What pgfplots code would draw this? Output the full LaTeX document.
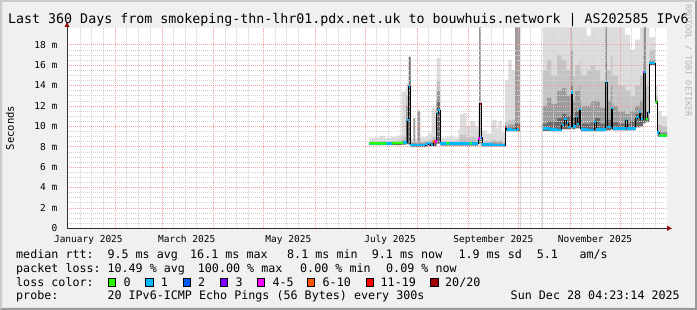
\documentclass[border=0pt]{standalone}
\usepackage{pgfplots}
\pgfplotsset{compat=1.18}
\usepackage{pgfplotstable}
\usepackage{fontspec}
\setmainfont{DejaVu Sans Mono}
\usetikzlibrary{arrows.meta}
\definecolor{bgc}{HTML}{F0F0F0}
\definecolor{shA}{HTML}{CBCBCB}
\definecolor{shB}{HTML}{999999}
\definecolor{mgrid}{HTML}{F2A0A0}
\definecolor{mingrid}{HTML}{D2D2D2}
\definecolor{arrowc}{HTML}{9A1010}
\definecolor{axc}{HTML}{303030}
\definecolor{s1}{HTML}{6A6A6A}
\definecolor{s2}{HTML}{9C9C9C}
\definecolor{s3}{HTML}{C4C4C4}
\definecolor{s4}{HTML}{DDDDDD}
\definecolor{wm}{HTML}{B4B4B4}
\definecolor{lc0}{HTML}{26FF00}
\definecolor{lc1}{HTML}{00B8FF}
\definecolor{lc2}{HTML}{0059FF}
\definecolor{lc3}{HTML}{7E00FF}
\definecolor{lc4}{HTML}{FF00FF}
\definecolor{lc6}{HTML}{FF5500}
\definecolor{lc11}{HTML}{FF0000}
\definecolor{lc20}{HTML}{A00000}

% smoke: interval start (day of 2025), min ping, and tops of the four shades
\pgfplotstableread{
x lo t1 t2 t3 t4
182.6 8.15 8.35 8.45 8.55 8.85
186.0 8.15 8.35 8.45 8.55 8.90
189.0 8.15 8.35 8.45 8.60 9.05
192.0 8.15 8.35 8.45 8.55 8.85
196.0 8.15 8.35 8.45 8.60 8.95
200.0 8.15 8.40 8.50 8.70 9.10
202.0 8.20 8.45 8.60 9.00 13.40
204.6 8.25 10.60 12.00 13.00 14.20
206.3 8.20 16.80 16.80 16.80 16.80
207.3 7.95 8.25 8.35 8.50 8.80
209.0 7.95 8.30 10.80 10.80 10.80
210.0 7.95 8.25 8.35 8.50 8.80
211.4 7.95 8.30 11.50 11.50 11.60
213.0 7.95 8.25 8.40 8.55 8.90
216.0 8.00 8.30 8.45 8.60 9.00
218.0 8.05 8.35 8.50 8.70 9.30
220.0 8.05 8.40 8.60 9.00 11.80
223.0 8.30 12.50 13.50 14.50 16.70
225.0 8.10 8.40 8.50 8.60 8.90
229.0 8.10 8.40 8.50 8.60 9.00
233.0 8.10 8.40 8.50 8.60 8.90
236.0 8.10 8.40 8.50 8.80 9.70
237.0 8.10 8.40 8.60 9.20 11.20
239.0 8.10 8.40 8.60 9.20 11.30
241.0 8.10 8.40 8.50 8.90 10.00
243.0 8.10 8.40 8.60 9.00 10.50
246.0 8.10 8.40 8.50 8.90 10.00
248.0 8.30 8.90 9.50 10.50 12.30
248.6 8.30 19.70 19.70 19.70 19.70
249.4 8.20 8.90 9.20 9.60 10.00
250.0 8.00 8.30 8.40 8.60 9.60
253.0 8.00 8.30 8.40 8.55 9.30
256.0 8.00 8.30 8.45 8.70 10.60
259.0 8.00 8.30 8.40 8.60 9.80
260.0 8.00 8.30 8.45 8.70 10.50
262.0 8.00 8.30 8.40 8.55 9.40
264.0 9.50 9.90 10.10 10.40 14.50
266.0 9.50 9.90 10.20 10.60 16.50
268.0 9.50 9.90 10.20 10.60 15.50
270.0 9.50 10.30 19.70 19.70 19.70
273.0 0 0 0 0 0
286.6 9.55 10.30 12.00 15.50 19.70
289.0 9.55 10.50 12.80 16.50 19.70
292.0 9.50 10.40 12.20 15.00 19.70
295.0 9.50 10.80 13.50 17.00 19.70
298.0 9.70 11.20 13.80 16.50 19.70
301.0 9.70 11.00 13.00 15.50 19.70
303.6 9.80 14.00 17.50 19.70 19.70
304.6 9.70 10.80 12.50 15.00 19.70
306.0 9.80 11.50 13.50 16.00 19.70
308.6 9.80 12.00 14.00 16.50 19.70
309.4 9.50 10.60 12.50 15.50 19.70
310.0 9.50 10.30 12.00 15.00 19.70
313.0 9.50 10.30 12.00 15.50 18.90
315.5 9.50 10.40 12.50 16.00 19.70
318.0 9.50 10.80 12.50 15.50 19.70
321.0 9.50 10.30 11.80 14.50 19.70
324.2 9.60 19.70 19.70 19.70 19.70
325.0 9.60 10.60 12.50 15.50 19.70
327.6 9.70 12.00 14.00 17.00 19.70
328.6 9.60 10.40 12.00 15.00 19.70
332.0 9.60 10.30 11.50 14.00 19.70
336.0 9.60 10.30 11.20 13.50 19.00
339.0 9.60 10.50 11.50 13.00 17.50
342.0 9.90 11.20 12.00 14.00 18.50
345.0 10.00 11.30 12.50 15.00 19.70
346.8 10.30 15.30 17.00 19.70 19.70
347.6 10.30 19.70 19.70 19.70 19.70
348.4 10.40 10.80 11.50 14.00 19.70
350.6 16.00 16.30 16.50 17.50 18.75
354.0 12.20 12.40 12.60 13.00 14.00
355.5 9.00 9.30 9.60 10.20 11.50
358.0 9.00 9.30 9.50 10.00 11.00
361.18 9.00 9.30 9.50 10.00 11.00
}\smoke

% median rtt (ms), step starting at x
\pgfplotstableread{
x v
182.6 8.33
190.0 8.30
196.0 8.35
203.0 8.40
205.3 10.60
206.2 13.90
207.2 8.17
212.0 8.15
216.0 8.25
218.0 8.35
219.5 8.17
221.0 8.50
222.0 8.50
223.0 11.30
224.0 11.60
225.0 8.33
236.0 8.33
248.0 8.80
248.8 12.20
249.6 8.90
250.2 8.20
257.0 8.15
264.0 9.95
265.0 9.70
268.0 9.65
271.0 9.75
272.5 9.90
273.0 9.90
273.1 nan
286.6 9.80
291.0 9.70
295.0 9.65
298.0 10.10
299.6 10.70
301.0 10.30
302.0 9.96
303.6 13.30
304.6 10.00
306.4 10.90
307.4 10.20
308.6 11.70
309.4 9.80
310.0 9.70
314.0 9.65
317.6 10.40
318.6 9.70
324.4 14.30
325.2 9.96
327.6 11.80
328.6 9.80
336.4 10.60
337.2 9.80
342.4 10.80
343.4 10.90
344.4 11.40
345.4 10.70
346.8 15.30
348.4 10.70
349.6 11.40
350.6 16.20
354.2 12.40
355.4 9.40
356.6 9.10
361.18 9.10
}\median

\pgfplotstableread{
x v
182.6 8.33
193.0 8.31
nan nan
196.0 8.35
203.0 8.37
nan nan
229.0 8.33
230.5 8.33
nan nan
243.0 8.33
244.0 8.33
nan nan
348.4 10.70
349.6 10.70
nan nan
354.2 12.40
355.4 12.40
nan nan
356.6 9.10
361.18 9.10
}\lossA

\pgfplotstableread{
x v
222.0 8.50
223.0 8.50
nan nan
248.0 8.80
248.8 8.80
nan nan
346.8 15.30
347.6 15.30
}\lossM

\pgfplotstableread{
x v
248.8 12.20
249.6 12.20
nan nan
264.0 9.95
264.7 9.95
}\lossR

\pgfplotstableread{
x v
221.0 8.50
222.0 8.50
nan nan
272.5 9.90
273.0 9.90
}\lossO

\pgfplotstableread{
x v
249.6 8.90
250.2 8.90
}\lossB

\begin{document}
\begin{tikzpicture}
\useasboundingbox (0pt,0pt) rectangle (697pt,310pt);
\fill[bgc] (0pt,0pt) rectangle (697pt,310pt);
\fill[shA] (0pt,0pt) -- (0pt,310pt) -- (697pt,310pt) -- (695pt,308pt) -- (2pt,308pt) -- (2pt,2pt) -- cycle;
\fill[shB] (0pt,0pt) -- (697pt,0pt) -- (697pt,310pt) -- (695pt,308pt) -- (695pt,2pt) -- (2pt,2pt) -- cycle;

\begin{axis}[
  at={(67pt,81.7pt)}, anchor=south west,
  scale only axis, width=600pt, height=200.3pt,
  xmin=1.18, xmax=361.18, ymin=0, ymax=19.64,
  axis background/.style={fill=white},
  axis on top, stack plots=y,
  axis x line=bottom, axis y line=left,
  axis line style={draw=axc, line width=0.9pt},
  x axis line style={-{Triangle[length=5pt,width=5pt,color=arrowc]}, shorten >=-5pt},
  y axis line style={-{Triangle[length=5pt,width=5pt,color=arrowc]}, shorten >=-6pt},
  xtick={30.2,58.2,89.2,119.2,150.2,180.2,211.2,242.2,272.2,303.2,333.2},
  xticklabels={},
  minor xtick={9,16,23,37,44,51,65,72,79,96,103,110,126,133,140,157,164,171,187,194,201,218,225,232,249,256,263,279,286,293,310,317,324,340,347,354},
  extra x ticks={14,73,134,195,257,318},
  extra x tick labels={January 2025,March 2025,May 2025,July 2025,September 2025,November 2025},
  extra x tick style={grid=none},
  ytick={0,2,...,18},
  yticklabels={0,2 m,4 m,6 m,8 m,10 m,12 m,14 m,16 m,18 m},
  minor y tick num=3,
  grid=both,
  major grid style={draw=mgrid, dash pattern=on 1pt off 1pt, line width=0.7pt},
  minor grid style={draw=mingrid, dash pattern=on 1pt off 1pt, line width=0.6pt},
  tick style={draw=none},
  every tick label/.append style={font=\fontsize{9.5}{11}\selectfont},
  xticklabel style={anchor=north, inner sep=0pt, yshift=-4.4pt},
  yticklabel style={anchor=east, inner sep=0pt, xshift=-7.4pt},
]
\addplot[draw=none, const plot mark left] table[x=x,y=lo]{\smoke};
\addplot[fill=s1, draw=none, const plot mark left] table[x=x,y expr=\thisrow{t1}-\thisrow{lo}]{\smoke} \closedcycle;
\addplot[fill=s2, draw=none, const plot mark left] table[x=x,y expr=\thisrow{t2}-\thisrow{t1}]{\smoke} \closedcycle;
\addplot[fill=s3, draw=none, const plot mark left] table[x=x,y expr=\thisrow{t3}-\thisrow{t2}]{\smoke} \closedcycle;
\addplot[fill=s4, draw=none, const plot mark left] table[x=x,y expr=\thisrow{t4}-\thisrow{t3}]{\smoke} \closedcycle;
\end{axis}

\begin{axis}[
  at={(67pt,81.7pt)}, anchor=south west,
  scale only axis, width=600pt, height=200.3pt,
  xmin=1.18, xmax=361.18, ymin=0, ymax=19.64,
  hide axis, unbounded coords=jump,
]
\addplot[black, line width=0.8pt, const plot mark left, mark=none] table[x=x,y=v]{\median};
\addplot[lc1, line width=2.4pt, jump mark left, mark=none, line cap=butt] table[x=x,y=v]{\median};
\addplot[lc0, line width=2.4pt, mark=none, line cap=butt] table[x=x,y=v]{\lossA};
\addplot[lc4, line width=2.4pt, mark=none, line cap=butt] table[x=x,y=v]{\lossM};
\addplot[lc11, line width=2.4pt, mark=none, line cap=butt] table[x=x,y=v]{\lossR};
\addplot[lc6, line width=2.4pt, mark=none, line cap=butt] table[x=x,y=v]{\lossO};
\addplot[lc2, line width=2.4pt, mark=none, line cap=butt] table[x=x,y=v]{\lossB};
\end{axis}

% title, axis label, watermark
\node[anchor=base, inner sep=0pt, font=\fontsize{13.3}{15}\selectfont] at (348.5pt,286.5pt)
  {Last 360 Days from smokeping-thn-lhr01.pdx.net.uk to bouwhuis.network | AS202585 IPv6};
\node[rotate=90, inner sep=0pt, font=\fontsize{10.5}{12}\selectfont] at (10pt,182pt) {Seconds};
\node[rotate=-90, anchor=west, inner sep=0pt, text=wm, font=\fontsize{8.5}{10}\selectfont] at (688.3pt,306pt)
  {RRDTOOL / TOBI OETIKER};

% legend
\begin{scope}[every node/.style={anchor=base west, inner sep=0pt, font=\fontsize{11.7}{13}\selectfont}]
\node at (16pt,51.7pt) {median rtt:};
\node at (107.3pt,51.7pt) {9.5 ms avg};
\node at (190pt,51.7pt) {16.1 ms max};
\node at (287pt,51.7pt) {8.1 ms min};
\node at (371.7pt,51.7pt) {9.1 ms now};
\node at (458.3pt,51.7pt) {1.9 ms sd};
\node at (536.7pt,51.7pt) {5.1};
\node at (579.3pt,51.7pt) {am/s};
\node at (16pt,37.7pt) {packet loss:};
\node at (107.3pt,37.7pt) {10.49 \% avg};
\node at (197.7pt,37.7pt) {100.00 \% max};
\node at (300pt,37.7pt) {0.00 \% min};
\node at (386pt,37.7pt) {0.09 \% now};
\node at (16pt,23.7pt) {loss color:};
\node at (123.3pt,23.7pt) {0};
\node at (160.7pt,23.7pt) {1};
\node at (198pt,23.7pt) {2};
\node at (235.3pt,23.7pt) {3};
\node at (272.3pt,23.7pt) {4-5};
\node at (322.5pt,23.7pt) {6-10};
\node at (380.5pt,23.7pt) {11-19};
\node at (445pt,23.7pt) {20/20};
\node at (16pt,10pt) {probe:};
\node at (107.3pt,10pt) {20 IPv6-ICMP Echo Pings (56 Bytes) every 300s};
\node[anchor=base east] at (680pt,10pt) {Sun Dec 28 04:23:14 2025};
\end{scope}
\begin{scope}[line width=0.7pt]
\draw[fill=lc0] (108.3pt,24pt) rectangle ++(7.3pt,7.3pt);
\draw[fill=lc1] (145.7pt,24pt) rectangle ++(7.3pt,7.3pt);
\draw[fill=lc2] (183pt,24pt) rectangle ++(7.3pt,7.3pt);
\draw[fill=lc3] (220.3pt,24pt) rectangle ++(7.3pt,7.3pt);
\draw[fill=lc4] (257.3pt,24pt) rectangle ++(7.3pt,7.3pt);
\draw[fill=lc6] (307.5pt,24pt) rectangle ++(7.3pt,7.3pt);
\draw[fill=lc11] (366pt,24pt) rectangle ++(7.3pt,7.3pt);
\draw[fill=lc20] (430.7pt,24pt) rectangle ++(7.3pt,7.3pt);
\end{scope}
\end{tikzpicture}
\end{document}
